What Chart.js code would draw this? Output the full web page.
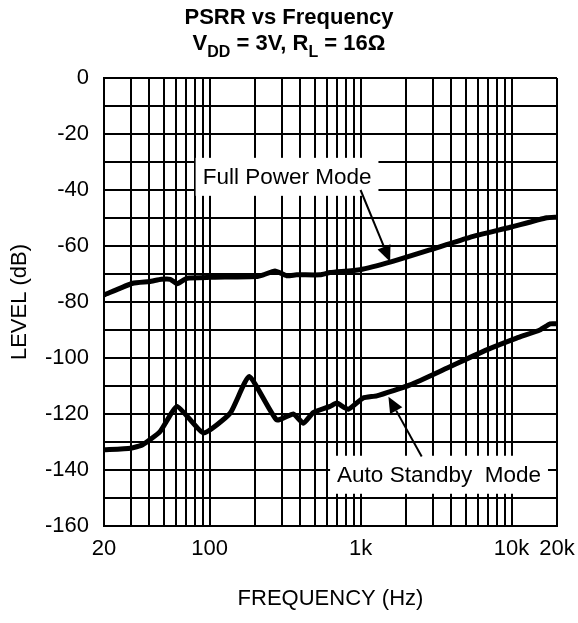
<!DOCTYPE html>
<html>
<head>
<meta charset="utf-8">
<script src="https://cdn.jsdelivr.net/npm/chart.js@4.4.1/dist/chart.umd.min.js"></script>
<style>
  html, body { margin: 0; padding: 0; background: #fff; }
</style>
</head>
<body>
<canvas id="psrrChart" width="578" height="623"></canvas>
<script>
// ----- Data -----
const fullFreq  = [20, 31, 40, 48, 55, 61, 71, 101, 205, 227, 271, 324, 378, 540, 628, 990, 1610, 2880, 5300, 9800, 17100, 20000];
const fullLevel = [-77.5, -73.3, -72.7, -71.9, -71.9, -73.5, -71.5, -71.2, -70.9, -70.3, -68.9, -70.6, -70.3, -70.3, -69.5, -68.5, -65.6, -61.4, -56.9, -53.3, -49.9, -49.7];

const autoFreq  = [20, 30, 36, 47, 61, 91, 137, 183, 278, 359, 418, 486, 628, 695, 830, 1040, 1280, 2130, 3910, 6850, 10800, 15400, 18000, 20000];
const autoLevel = [-132.8, -132.2, -131, -126.3, -117.3, -126.8, -119.7, -106.6, -122.1, -120, -123.3, -119.5, -117.3, -116.1, -118.3, -114.3, -113.5, -109.6, -103.1, -97.1, -92.9, -90, -87.8, -87.8];

// axis ticks
const gridFreqs = [20, 30, 40, 50, 60, 70, 80, 90,
  100, 200, 300, 400, 500, 600, 700, 800, 900,
  1000, 2000, 3000, 4000, 5000, 6000, 7000, 8000, 9000,
  10000, 20000];
const xTickValues = [20, 100, 1000, 10000, 20000];
const xTickText   = ["20", "100", "1k", "10k", "20k"];

// annotations (data units)
const noteText  = ["Full Power Mode", "Auto Standby  Mode"];
const noteFreq  = [326, 3310];
const noteLevel = [-35.3, -141.7];
const arrowFromFreq  = [1000, 2540];
const arrowFromLevel = [-40, -135.2];
const arrowToFreq    = [1570, 1530];
const arrowToLevel   = [-65.6, -113.8];

const FONT = "'Liberation Sans', Arial, Helvetica, sans-serif";

// ----- Title plugin (two lines, subscripts) -----
const titlePlugin = {
  id: "psrrTitle",
  afterDraw(chart) {
    const c = chart.ctx;
    const cx = chart.width / 2;
    c.save();
    c.fillStyle = "#000";
    c.textBaseline = "alphabetic";
    c.textAlign = "center";
    c.font = `bold 22px ${FONT}`;
    c.fillText("PSRR vs Frequency", cx, 24);

    const parts = [["V", 0], ["DD", 1], [" = 3V, R", 0], ["L", 1], [" = 16\u03A9", 0]];
    const big = `bold 22px ${FONT}`, small = `bold 16px ${FONT}`;
    let w = 0;
    parts.forEach(([t, s]) => { c.font = s ? small : big; w += c.measureText(t).width; });
    let x = cx - w / 2;
    c.textAlign = "left";
    parts.forEach(([t, s]) => {
      c.font = s ? small : big;
      c.fillText(t, x, s ? 56.5 : 50);
      x += c.measureText(t).width;
    });
    c.restore();
  }
};

// ----- Boxed labels + arrows -----
const notePlugin = {
  id: "notes",
  afterDatasetsDraw(chart) {
    const c = chart.ctx;
    const { x, y } = chart.scales;
    c.save();
    c.font = `22.5px ${FONT}`;
    c.textAlign = "center";
    c.textBaseline = "middle";
    noteText.forEach((t, i) => {
      const px = x.getPixelForValue(noteFreq[i]);
      const py = y.getPixelForValue(noteLevel[i]);
      const w = c.measureText(t).width + 14;
      const h = 38;
      c.fillStyle = "#fff";
      c.fillRect(px - w / 2, py - h / 2, w, h);
      c.fillStyle = "#000";
      c.fillText(t, px, py + 1);
    });
    arrowFromFreq.forEach((f, i) => {
      const x0 = x.getPixelForValue(f), y0 = y.getPixelForValue(arrowFromLevel[i]);
      const x1 = x.getPixelForValue(arrowToFreq[i]), y1 = y.getPixelForValue(arrowToLevel[i]);
      const ang = Math.atan2(y1 - y0, x1 - x0);
      const len = 16, half = 7;
      const bx = x1 - len * Math.cos(ang), by = y1 - len * Math.sin(ang);
      c.strokeStyle = "#000";
      c.lineWidth = 2;
      c.beginPath();
      c.moveTo(x0, y0);
      c.lineTo(bx, by);
      c.stroke();
      c.beginPath();
      c.moveTo(x1, y1);
      c.lineTo(bx + half * Math.sin(ang), by - half * Math.cos(ang));
      c.lineTo(bx - half * Math.sin(ang), by + half * Math.cos(ang));
      c.closePath();
      c.fillStyle = "#000";
      c.fill();
    });
    c.restore();
  }
};

// ----- Chart -----
const toPoints = (fs, ls) => fs.map((f, i) => ({ x: f, y: ls[i] }));

new Chart(document.getElementById("psrrChart").getContext("2d"), {
  type: "line",
  data: {
    datasets: [
      {
        label: "Full Power Mode",
        data: toPoints(fullFreq, fullLevel),
        borderColor: "#000",
        borderWidth: 5,
        pointRadius: 0,
        tension: 0.15,
        fill: false
      },
      {
        label: "Auto Standby Mode",
        data: toPoints(autoFreq, autoLevel),
        borderColor: "#000",
        borderWidth: 5,
        pointRadius: 0,
        tension: 0.15,
        fill: false
      }
    ]
  },
  options: {
    responsive: false,
    animation: false,
    layout: { padding: { top: 78, right: 21, left: 0, bottom: 0 } },
    plugins: { legend: { display: false }, tooltip: { enabled: false } },
    scales: {
      x: {
        type: "logarithmic",
        min: 20,
        max: 20000,
        afterBuildTicks: (s) => { s.ticks = gridFreqs.map((v) => ({ value: v })); },
        afterFit: (s) => { s.height = 97; s.paddingLeft = 0; s.paddingRight = 0; },
        ticks: {
          autoSkip: false,
          maxRotation: 0,
          padding: 10,
          color: "#000",
          font: { family: FONT, size: 22 },
          callback: (v) => {
            const k = xTickValues.indexOf(v);
            return k >= 0 ? xTickText[k] : "";
          }
        },
        grid: { color: "#000", lineWidth: 2, drawTicks: false },
        border: { color: "#000", width: 2 },
        title: {
          display: true,
          text: "FREQUENCY (Hz)",
          color: "#000",
          font: { family: FONT, size: 22 },
          padding: { top: 0, bottom: 11 }
        }
      },
      y: {
        min: -160,
        max: 0,
        afterFit: (s) => { s.width = 104; s.paddingTop = 0; s.paddingBottom = 0; },
        ticks: {
          stepSize: 10,
          autoSkip: false,
          padding: 15,
          color: "#000",
          font: { family: FONT, size: 22 },
          callback: (v) => (v % 20 === 0 ? String(v) : "")
        },
        grid: { color: "#000", lineWidth: 2, drawTicks: false },
        border: { color: "#000", width: 2 },
        title: {
          display: true,
          text: "LEVEL (dB)",
          color: "#000",
          font: { family: FONT, size: 22 },
          padding: { top: 7, bottom: 0 }
        }
      }
    }
  },
  plugins: [titlePlugin, notePlugin]
});
</script>
</body>
</html>
